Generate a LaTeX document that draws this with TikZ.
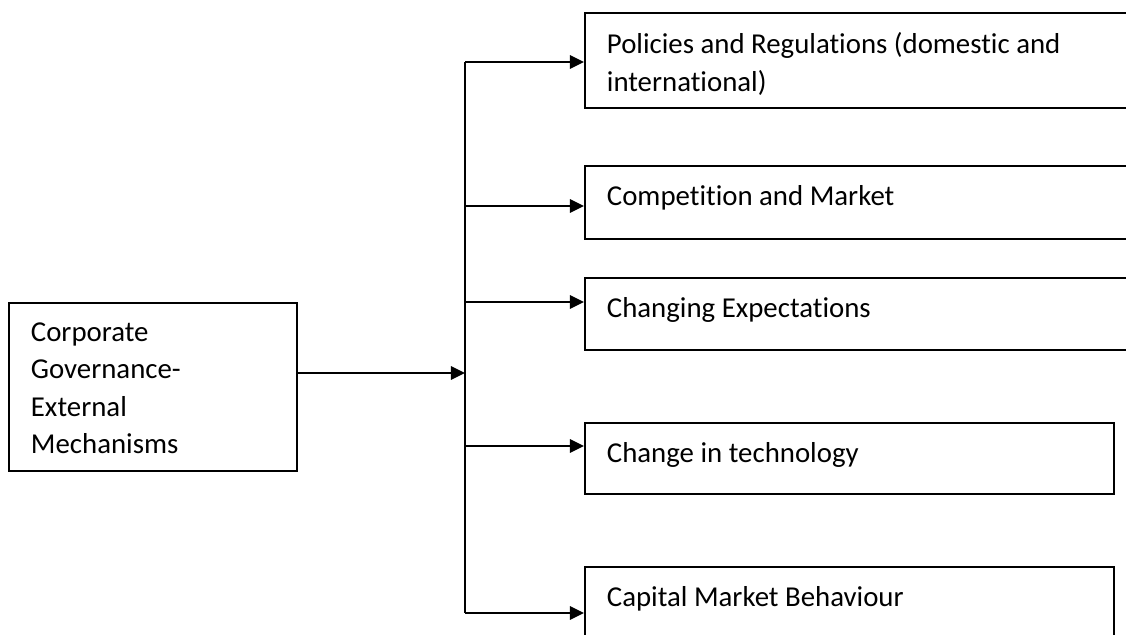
\documentclass[tikz,border=0pt]{standalone}
\usepackage{fontspec}
\setmainfont{Carlito}[Ligatures=NoCommon]
\usetikzlibrary{arrows.meta}

\tikzset{
  box/.style={draw, line width=1.3pt, anchor=north west, inner xsep=0.55cm, inner ysep=0.5cm},
  link/.style={line width=1.3pt, -{Triangle[length=10pt,width=9.5pt]}},
}
% text block pinned to the top of a box: height, width, lines
\newcommand{\boxtext}[3]{\parbox[t][#1][t]{#2}{#3}}

\begin{document}
\begin{tikzpicture}[x=0.025cm, y=-0.025cm, every node/.style={font=\fontsize{20.5}{26.5}\selectfont}]

\useasboundingbox (0,0) rectangle (1126,634);
\clip (0,0) rectangle (1126,634);

% source box
\node[box] (cgem) at (8,302) {\boxtext{3.2cm}{6.1cm}{Corporate\\Governance-\\External\\Mechanisms}};

% external mechanisms
\node[box] (policy)  at (584,12)  {\boxtext{1.375cm}{12.8cm}{Policies and Regulations (domestic and\\international)}};
\node[box] (compete) at (584,165) {\boxtext{0.825cm}{12.8cm}{Competition and Market}};
\node[box] (expect)  at (584,277) {\boxtext{0.8cm}{12.8cm}{Changing Expectations}};
\node[box] (tech)    at (584,422) {\boxtext{0.775cm}{12.125cm}{Change in technology}};
\node[box] (capital) at (584,566) {\boxtext{1.1cm}{12.125cm}{Capital Market Behaviour}};

% hub on the spine
\coordinate (hub) at (465,373);
\draw[link] (cgem.east |- hub) -- (hub);

% spine and branches
\foreach \n/\y in {policy/62, compete/206, expect/302, tech/446, capital/613} {
  \coordinate (j-\n) at (465,\y);
  \draw[link] (j-\n) -- (\n.west |- j-\n);
}
\draw[line width=1.3pt] (j-policy) -- (j-capital);

\end{tikzpicture}
\end{document}
